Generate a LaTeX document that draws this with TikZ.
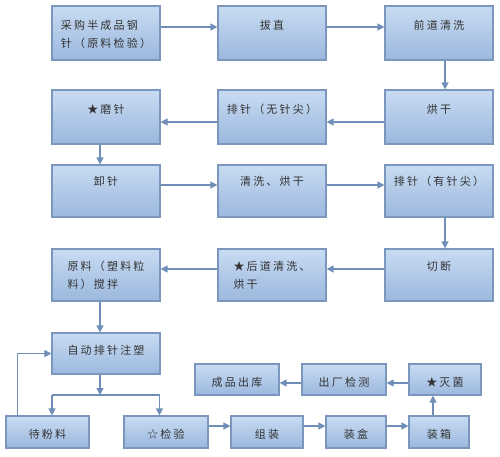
\documentclass[tikz,border=0pt]{standalone}
\usepackage{fontspec}
\newfontfamily\cjk[LetterSpace=20]{Noto Sans CJK SC}
\usetikzlibrary{arrows.meta}
\definecolor{bd}{HTML}{7B97BD}
\definecolor{ftop}{HTML}{C8DBF2}
\definecolor{fbot}{HTML}{9BB8DE}
\definecolor{ar}{HTML}{6F8FB8}
\definecolor{tx}{HTML}{333333}
\begin{document}
\begin{tikzpicture}[x=1pt,y=-1pt,
  box/.style={draw=bd, line width=1.2pt, top color=ftop, bottom color=fbot,
    inner xsep=3pt, inner ysep=0pt, font=\cjk\fontsize{11}{18}\selectfont,
    text=tx, align=center},
  arr/.style={draw=ar, line width=1.3pt, -{Triangle[length=7pt,width=7pt]}},
  ln/.style={draw=ar, line width=1.3pt}]
\useasboundingbox (0,0) rectangle (500,456);
% row 1
\node[box, minimum width=108pt, text height=41pt, text depth=13pt, align=left] (n1) at (106,33) {采购半成品钢\\针（原料检验）};
\node[box, minimum width=108pt, text height=23pt, text depth=31pt] (n2) at (272,33) {拔直};
\node[box, minimum width=108pt, text height=23pt, text depth=31pt] (n3) at (439,33) {前道清洗};
% row 2
\node[box, minimum width=108pt, text height=23pt, text depth=31pt] (n4) at (439,117) {烘干};
\node[box, minimum width=108pt, text height=23pt, text depth=31pt] (n5) at (272,117) {排针（无针尖）};
\node[box, minimum width=108pt, text height=23pt, text depth=31pt] (n6) at (106,117) {★磨针};
% row 3
\node[box, minimum width=108pt, text height=20pt, text depth=32pt] (n7) at (106,191) {卸针};
\node[box, minimum width=108pt, text height=20pt, text depth=32pt] (n8) at (272,191) {清洗、烘干};
\node[box, minimum width=108pt, text height=20pt, text depth=32pt] (n9) at (439,191) {排针（有针尖）};
% row 4
\node[box, minimum width=108pt, text height=21pt, text depth=31pt] (n10) at (439,275) {切断};
\node[box, minimum width=108pt, text height=39pt, text depth=13pt, align=left] (n11) at (272,275) {★后道清洗、\\烘干};
\node[box, minimum width=108pt, text height=39pt, text depth=13pt, align=left] (n12) at (106,275) {原料（塑料粒\\料）搅拌};
% row 5
\node[box, minimum width=108pt, text height=21pt, text depth=20pt] (n13) at (106,353.5) {自动排针注塑};
% bottom rows
\node[box, minimum width=83pt, text height=22pt, text depth=10pt] (dfl) at (47.5,432) {待粉料};
\node[box, minimum width=84pt, text height=22pt, text depth=10pt] (jy) at (166,432) {☆检验};
\node[box, minimum width=72pt, text height=22pt, text depth=10pt] (zz) at (267,432) {组装};
\node[box, minimum width=60pt, text height=22pt, text depth=10pt] (zh) at (356,432) {装盒};
\node[box, minimum width=60pt, text height=22pt, text depth=10pt] (zx) at (439,432) {装箱};
\node[box, minimum width=72pt, text height=22pt, text depth=9pt] (mj) at (445,379.5) {★灭菌};
\node[box, minimum width=84pt, text height=22pt, text depth=9pt] (cc) at (344,379.5) {出厂检测};
\node[box, minimum width=84pt, text height=22pt, text depth=9pt] (ck) at (237,379.5) {成品出库};
% connectors
\draw[arr] ([yshift=6pt]n1.east) -- ([yshift=6pt]n2.west);
\draw[arr] ([yshift=6pt]n2.east) -- ([yshift=6pt]n3.west);
\draw[arr] ([xshift=6pt]n3.south) -- ([xshift=6pt]n4.north);
\draw[arr] ([yshift=-5pt]n4.west) -- ([yshift=-5pt]n5.east);
\draw[arr] ([yshift=-5pt]n5.west) -- ([yshift=-5pt]n6.east);
\draw[arr] ([xshift=-6pt]n6.south) -- ([xshift=-6pt]n7.north);
\draw[arr] ([yshift=6pt]n7.east) -- ([yshift=6pt]n8.west);
\draw[arr] ([yshift=6pt]n8.east) -- ([yshift=6pt]n9.west);
\draw[arr] ([xshift=6pt]n9.south) -- ([xshift=6pt]n10.north);
\draw[arr] ([yshift=6pt]n10.west) -- ([yshift=6pt]n11.east);
\draw[arr] ([yshift=6pt]n11.west) -- ([yshift=6pt]n12.east);
\draw[arr] ([xshift=-6pt]n12.south) -- ([xshift=-6pt]n13.north);
\coordinate (j) at (100,395);
\coordinate (jl) at (52,395);
\coordinate (jr) at (159.5,395);
\draw[arr] ([xshift=-6pt]n13.south) -- (j);
\draw[ln] (jl) -- (jr);
\draw[arr] (jl) -- (jl |- dfl.north);
\draw[arr] (jr) -- (jr |- jy.north);
\draw[arr] ([xshift=-30pt]dfl.north) |- (n13.west);
\draw[arr] ([yshift=6pt]jy.east) -- ([yshift=6pt]zz.west);
\draw[arr] ([yshift=6pt]zz.east) -- ([yshift=6pt]zh.west);
\draw[arr] ([yshift=6pt]zh.east) -- ([yshift=6pt]zx.west);
\draw[arr] ([xshift=-6pt]zx.north) -- ([xshift=-6pt]zx.north |- mj.south);
\draw[arr] ([yshift=-3.5pt]mj.west) -- ([yshift=-3.5pt]cc.east);
\draw[arr] ([yshift=-3.5pt]cc.west) -- ([yshift=-3.5pt]ck.east);
\end{tikzpicture}
\end{document}
